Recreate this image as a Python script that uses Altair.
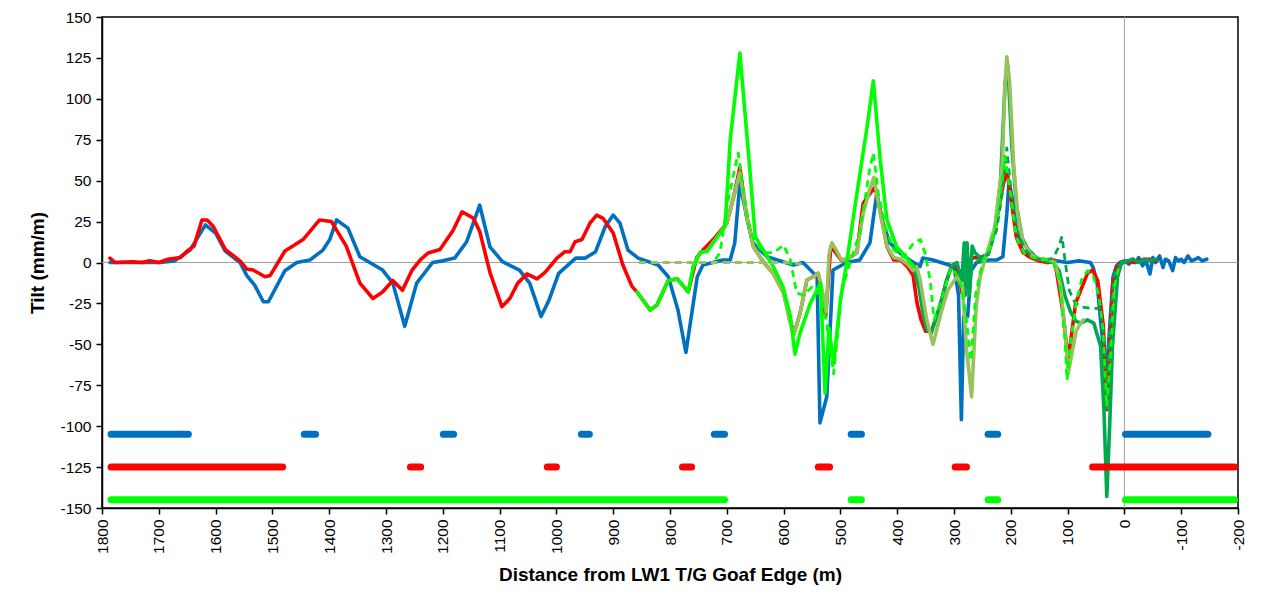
import altair as alt
import pandas as pd

# ---------------- data (distance m, tilt mm/m) ----------------
blue = [(1786,0),(1698,0),(1672,1),(1645,7.6),(1618,23),(1600,18),(1583,7),(1557,0),(1545,-8),(1531,-14),
        (1516,-24),(1507,-24),(1478,-5),(1457,0),(1434,1.5),(1411,7.6),(1399,14),(1387,26),(1367,21),(1346,3.5),
        (1306,-4.6),(1288,-12.6),(1267,-39),(1246,-12.6),(1218,0),(1200,1),(1179,2.7),(1158,12.7),(1135,35),(1117,9.6),
        (1095,0.5),(1065,-4.6),(1047,-12.6),(1027,-33),(1013,-23),(996,-6.6),(966,2.7),(949,2.7),(931,6.6),(914,22),
        (900,29),(888,24),(874,7.6),(856,2.7),(821,-1.5),(803,-8.7),(786,-29),(772,-55),(752,-8.7),(742,-1.5),
        (707,1.5),(694,1.5),(686,12),(677,48.5),(665,28),(654,12),(629,3.5),(583,-1.5),(566,0),(541,-8.7),
        (536,-98),(524,-82),(513,-4.6),(489,0),(466,1.5),(448,12),(436,42),(425,24),(413,12),(395,5.8),
        (378,1.5),(360,-2.5),(355,2.7),(337,1.5),(300,-2.5),(292,-20),(287,-96),(283,-33),(276,-33),(270,-5),
        (260,0),(240,1.5),(225,1.5),(214,3.5),(207,30),(203,50),(198,40),(190,20),(180,8),(170,4),
        (150,1.5),(135,0),(120,1),(100,0),(80,1),(60,0),(55,-3),(48,-12.6),(42,-35),(35,-60),
        (31,-65),(26,-40),(20,-8.7),(14,-2),(8,0),(0,1),(-8,-1),(-15,2),(-20,0),(-25,3),
        (-32,-2),(-38,1),(-45,-7),(-50,3),(-55,0),(-62,4),(-68,-3),(-72,2),(-78,1),(-85,-5),
        (-90,3),(-95,1),(-100,2),(-105,0),(-112,4),(-118,1),(-125,2),(-130,3),(-137,1),(-145,2)]

red = [(1786,2.7),(1777,0),(1746,0.5),(1730,0),(1716,1),(1700,0),(1684,2),(1662,3),(1650,7),(1638,10),
       (1624,26),(1615,26),(1604,22),(1583,8),(1557,1),(1545,-4),(1534,-4.6),(1513,-8.7),(1504,-8),(1478,7),
       (1466,9.6),(1446,14),(1429,21),(1417,26),(1396,25),(1370,10),(1346,-12.6),(1323,-22),(1306,-18),(1288,-11),
       (1271,-17),(1254,-4.6),(1240,1.5),(1226,5.8),(1205,8),(1182,19.6),(1166,31),(1146,27),(1135,19),(1117,-6),
       (1096,-27),(1082,-22),(1068,-12.6),(1052,-7),(1034,-10),(1020,-6),(999,2.7),(985,6.6),(976,6.6),(967,12.7),
       (955,14),(941,24),(929,29),(918,27),(900,18),(883,-1.5),(867,-14.6),(858,-18),(835,-29),(823,-26),
       (803,-11),(787,-10),(768,-18),(753,3),(742,7.6),(724,14),(707,21),(700,24),(688,40),(677,58),
       (665,28),(653,9.6),(635,0),(618,-6.6),(600,-18.6),(582,-44),(571,-31),(559,-10.7),(548,-8.7),(539,-6.6),
       (526,-33),(517,9.6),(508,6),(499,1.5),(488,2),(471,6),(460,36),(448,42),(439,46),(430,32),
       (418,9.6),(406,1.5),(394,1.5),(382,-2.5),(372,-8),(365,-25),(358,-35),(350,-42),(340,-42),(325,-27),
       (313,-11),(304,-2),(295,-1),(286,-18.6),(282,-20),(276,-5),(268,3),(255,3),(240,5),(228,20),
       (215,45),(207,56.5),(200,40),(190,15),(178,6),(165,3),(150,1),(135,0),(124,1.5),(119,-6.6),
       (108,-31),(99,-60),(86,-25),(65,-6.6),(56,-4.6),(47,-11),(37,-39),(31,-90),(26,-60),(21,-15),
       (12,-2),(5,0),(-5,1),(-15,0),(-25,1),(-35,2),(-45,2),(-55,1)]

bright_green = [(858,-18),(835,-29),(823,-26),(803,-11),(787,-10),(768,-18),(759,-2.5),(746,6.6),(735,6.6),(712,18),
                (703,22),(694,75),(677,128),(659,55),(650,16),(636,7.6),(618,-2.5),(601,-15),(588,-33),(580,-56),
                (571,-43),(553,-25),(535,-12.6),(527,-80),(520,-40),(512,-62),(500,-23),(490,-2.5),(471,42),(453,83),
                (442,111),(430,63),(418,26),(401,9.6),(385,3.5),(371,-2.5)]

olive_green = [(760,-3),(747,6),(735,7),(712,18),(700,24),(688,40),(677,55),(665,28),(653,9.6),(635,0),
               (618,-6.6),(600,-18.6),(590,-35),(582,-44),(571,-31),(559,-10.7),(548,-8.7),(539,-6.6),(530,-20),(525,-30),
               (520,5),(515,12),(508,8),(499,2),(488,2),(471,6),(460,30),(448,45),(441,52),(430,30),
               (418,10),(406,3),(394,2),(382,-1),(372,-5),(366,-2.5),(360,-10),(348,-35),(337,-50),(323,-31),
               (311,-17),(295,-8.7),(285,-15),(278,-53),(269,-82),(261,-27),(254,-8.7),(242,6),(228,22),(215,60),
               (210,110),(207,125.7),(202,110),(195,60),(188,30),(178,12),(165,5),(150,2),(135,2),(122,0),
               (112,-15),(105,-40),(99,-68),(92,-55),(85,-42),(77,-37),(72,-35)]

dark_green = [(372,-2),(362,-15),(355,-30),(348,-41),(340,-43),(325,-27),(313,-11),(304,-2),(295,0),(286,-11),
              (282,12),(280,-20),(277,12),(273,-20),(268,10),(263,6),(254,3),(240,5),(228,20),(218,50),
              (210,110),(205,120),(198,70),(190,35),(180,15),(170,8),(155,3),(140,1),(125,0),(115,-5),
              (105,-20),(95,-30),(85,-36),(77,-37),(65,-35),(54,-37),(42,-51),(36,-90),(31,-143),(26,-100),
              (21,-51),(12,-8.7),(5,0),(-5,1),(-15,2),(-25,0),(-35,2),(-45,1),(-55,2)]

bright_green_dash = [(720,2),(712,6),(700,34),(680,67),(671,44),(659,18),(636,6),(618,6),(600,10.7),(588,1.5),
                     (577,-18.6),(565,-20),(550,-15),(535,-20),(525,-35),(512,-68),(505,-45),(498,-18),(483,0),(466,18),
                     (448,58),(442,67),(433,42),(421,22),(406,7.6),(389,3.5),(371,12),(359,14),(351,6),(342,-10.7),
                     (335,-35),(320,-20),(305,-3),(290,-10),(280,-30),(270,-60),(262,-20),(250,0),(235,10),(222,30),
                     (210,65),(200,40),(190,15),(175,5),(160,3),(140,2),(125,0),(115,-10),(105,-45),(101,-72),
                     (95,-50),(85,-25),(75,-10),(65,-5),(55,-8),(45,-20),(38,-40),(31,-88),(25,-60),(18,-15),(10,-3)]

olive_green_dash = [(855,0),(820,0),(780,0),(740,0),(720,0),(690,0),(660,0),(630,0),(600,0),(565,-1)]

dark_green_dash = [(262,0),(240,5),(225,20),(215,42),(207,70),(200,45),(190,20),(175,8),(160,3),(140,1),
                   (125,3),(115,10),(110,16),(104,0),(97,-17),(88,-24),(77,-27),(60,-28),(42,-28),(36,-45),
                   (31,-90),(26,-40),(18,-8),(10,-2),(0,0)]

# horizontal status bars: (start, end)
blue_bars = [(1784,1648),(1444,1424),(1199,1181),(956,942),(722,704),(481,463),(240,223),(-2,-147)]
red_bars = [(1784,1482),(1257,1239),(1016,1000),(778,762),(539,519),(298,278),(56,-194)]
green_bars = [(1784,704),(481,463),(240,223),(-2,-194)]
bar_levels = {"blue": -105, "red": -125, "green": -145}

BLUE, RED, BGREEN, OLIVE, DGREEN = "#0070C0", "#FF0000", "#00FF00", "#96C35C", "#00A84F"

# ---------------- chart ----------------
xs = alt.Scale(domain=[-200, 1800], reverse=True, nice=False, zero=False)
ys = alt.Scale(domain=[-150, 150], nice=False, zero=False)
lab_font = "Liberation Sans"

x_axis = alt.Axis(values=list(range(-200, 1801, 100)), labelAngle=270, labelExpr="'' + datum.value",
                  title="Distance from LW1 T/G Goaf Edge (m)",
                  grid=False, domainColor="black", domainWidth=1.5, tickColor="black", tickWidth=1.5, tickSize=6,
                  labelFontSize=15.5, labelFont=lab_font, labelColor="black", labelPadding=5,
                  titleFont=lab_font, titleFontSize=19, titleFontWeight="bold", titleColor="black", titlePadding=12)
y_axis = alt.Axis(values=list(range(-150, 151, 25)), labelExpr="'' + datum.value", title="Tilt (mm/m)",
                  grid=False, domainColor="black", domainWidth=1.5, tickColor="black", tickWidth=1.5, tickSize=6,
                  labelFontSize=15.5, labelFont=lab_font, labelColor="black", labelPadding=5,
                  titleFont=lab_font, titleFontSize=19, titleFontWeight="bold", titleColor="black", titlePadding=12)

layers = []
# zero reference lines
layers.append(alt.Chart(pd.DataFrame({"y": [0]})).mark_rule(color="#A0A0A0", strokeWidth=1).encode(
    y=alt.Y("y:Q", scale=ys, axis=y_axis)))
layers.append(alt.Chart(pd.DataFrame({"x": [0]})).mark_rule(color="#A0A0A0", strokeWidth=1).encode(
    x=alt.X("x:Q", scale=xs, axis=x_axis)))

series = [
    ("blue", blue, BLUE, False),
    ("red", red, RED, False),
    ("dark_green", dark_green, DGREEN, False),
    ("olive_green", olive_green, OLIVE, False),
    ("bright_green", bright_green, BGREEN, False),
    ("olive_green_dash", olive_green_dash, OLIVE, True),
    ("dark_green_dash", dark_green_dash, DGREEN, True),
    ("bright_green_dash", bright_green_dash, BGREEN, True),
]
for name, pts, col, dashed in series:
    df = pd.DataFrame(pts, columns=["x", "y"])
    kw = dict(color=col, strokeWidth=3.6, strokeJoin="round", clip=True)
    if dashed:
        kw["strokeDash"] = [7, 5]
        kw["strokeWidth"] = 2.8
    else:
        kw["strokeCap"] = "round"
    layers.append(alt.Chart(df).mark_line(**kw).encode(
        x=alt.X("x:Q", scale=xs, axis=x_axis),
        y=alt.Y("y:Q", scale=ys, axis=y_axis)))

bar_rows = []
for key, bars, col in (("blue", blue_bars, BLUE), ("red", red_bars, RED), ("green", green_bars, BGREEN)):
    for a, b in bars:
        bar_rows.append({"x1": a, "x2": b, "lvl": bar_levels[key], "c": col})
bars_df = pd.DataFrame(bar_rows)
layers.append(alt.Chart(bars_df).mark_rule(strokeWidth=7, strokeCap="round").encode(
    x=alt.X("x1:Q", scale=xs, axis=x_axis), x2="x2:Q",
    y=alt.Y("lvl:Q", scale=ys, axis=y_axis),
    color=alt.Color("c:N", scale=None)))

chart = alt.layer(*layers).properties(
    width=1136, height=491,
    autosize=alt.AutoSizeParams(type="none"),
    padding={"left": 102, "top": 17, "right": 34, "bottom": 99},
    background="white",
).configure_view(stroke="black", strokeWidth=1.5)

chart.save("out.html", embed_options={"renderer": "svg", "actions": False})
